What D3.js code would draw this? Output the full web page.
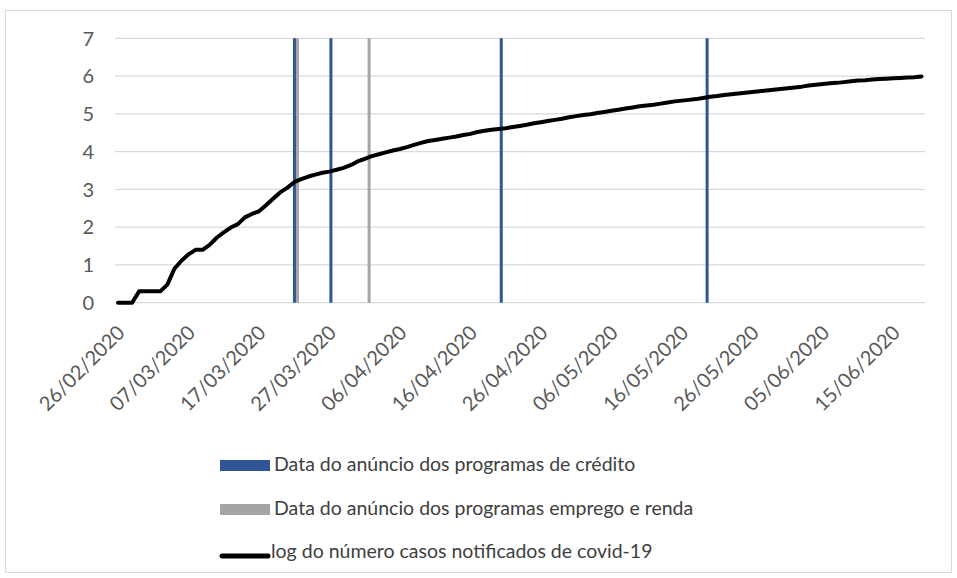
<!DOCTYPE html>
<html lang="pt">
<head>
<meta charset="UTF-8">
<title>log do número de casos de covid-19</title>
<script src="https://d3js.org/d3.v7.min.js"></script>
<style>
  body { margin: 0; background: #fff; }
  svg { display: block; font-family: Lato, 'Open Sans', sans-serif; }
  .grid line { stroke: #d9d9d9; stroke-width: 1.3px; }
  .tick-label { fill: #595959; }
  .legend text { fill: #404040; }
</style>
</head>
<body>
<svg id="chart" width="957" height="578"></svg>
<script>
// first day of the series, one value per day after that
const startDate = "2020-02-26";
const logCases = [
  0, 0, 0, 0.30,                                                   // 26-29/02
  0.30, 0.30, 0.30, 0.48, 0.90, 1.11, 1.28, 1.40, 1.40, 1.53,      // 01-10/03
  1.72, 1.86, 1.99, 2.08, 2.26, 2.35, 2.42, 2.58, 2.75, 2.92,      // 11-20/03
  3.04, 3.19, 3.27, 3.34, 3.39, 3.44, 3.47, 3.52, 3.57, 3.64, 3.74, // 21-31/03
  3.81, 3.88, 3.93, 3.98, 4.03, 4.07, 4.12, 4.18, 4.23, 4.28,      // 01-10/04
  4.31, 4.34, 4.37, 4.40, 4.44, 4.47, 4.52, 4.55, 4.58, 4.60,      // 11-20/04
  4.62, 4.65, 4.68, 4.71, 4.75, 4.78, 4.81, 4.84, 4.87, 4.91,      // 21-30/04
  4.94, 4.97, 4.99, 5.02, 5.05, 5.08, 5.11, 5.14, 5.17, 5.20,      // 01-10/05
  5.22, 5.24, 5.27, 5.30, 5.33, 5.35, 5.37, 5.39, 5.42, 5.45,      // 11-20/05
  5.47, 5.50, 5.52, 5.54, 5.56, 5.58, 5.60, 5.62, 5.64, 5.66, 5.68, // 21-31/05
  5.70, 5.72, 5.75, 5.77, 5.79, 5.81, 5.82, 5.84, 5.86, 5.88,      // 01-10/06
  5.89, 5.91, 5.92, 5.93, 5.94, 5.95, 5.96, 5.97, 5.99             // 11-19/06
];

// announcement dates (vertical lines)
const creditoDates = ["2020-03-22T01:00", "2020-03-27T05:00", "2020-04-20T09:00", "2020-05-19T14:00"];
const empregoDates = ["2020-03-22T11:00", "2020-04-01T15:00"];

const xTickDates = ["2020-02-26", "2020-03-07", "2020-03-17", "2020-03-27", "2020-04-06", "2020-04-16",
                    "2020-04-26", "2020-05-06", "2020-05-16", "2020-05-26", "2020-06-05", "2020-06-15"];
const yTicks = [0, 1, 2, 3, 4, 5, 6, 7];

const legendLabels = [
  "Data do anúncio dos programas de crédito",
  "Data do anúncio dos programas emprego e renda",
  "log do número casos notificados de covid-19"
];

const parseDay = d3.utcParse("%Y-%m-%d");
const parseTime = d3.utcParse("%Y-%m-%dT%H:%M");
const fmt = d3.utcFormat("%d/%m/%Y");

const t0 = parseDay(startDate);
const days = logCases.map((v, i) => ({ date: d3.utcDay.offset(t0, i), value: v }));

const svg = d3.select("#chart");

// outer frame like the Excel chart area
svg.append("rect")
  .attr("x", 5.5).attr("y", 10.5)
  .attr("width", 946).attr("height", 562)
  .attr("fill", "none").attr("stroke", "#d9d9d9");

const x = d3.scaleUtc()
  .domain([t0, days[days.length - 1].date])
  .range([118, 921.5]);

const y = d3.scaleLinear().domain([0, 7]).range([302.7, 38.3]);

// horizontal gridlines
svg.append("g").attr("class", "grid")
  .selectAll("line").data(yTicks).join("line")
  .attr("x1", 115).attr("x2", 925)
  .attr("y1", d => y(d)).attr("y2", d => y(d));

// y tick labels
svg.append("g")
  .selectAll("text").data(yTicks).join("text")
  .attr("class", "tick-label")
  .attr("x", 94).attr("y", d => y(d))
  .attr("dy", "0.36em")
  .attr("text-anchor", "end")
  .style("font-size", "20px")
  .text(d => d);

// x tick labels, rotated
svg.append("g")
  .selectAll("text").data(xTickDates.map(parseDay)).join("text")
  .attr("class", "tick-label")
  .attr("transform", d => `translate(${x(d) + 3},329) rotate(-45)`)
  .attr("dy", "0.35em")
  .attr("text-anchor", "end")
  .style("font-size", "20px")
  .text(d => fmt(d));

// vertical announcement lines
svg.append("g")
  .selectAll("line").data(creditoDates.map(parseTime)).join("line")
  .attr("x1", d => x(d)).attr("x2", d => x(d))
  .attr("y1", y(7)).attr("y2", y(0))
  .attr("stroke", "#2f5597").attr("stroke-width", 3);

svg.append("g")
  .selectAll("line").data(empregoDates.map(parseTime)).join("line")
  .attr("x1", d => x(d)).attr("x2", d => x(d))
  .attr("y1", y(7)).attr("y2", y(0))
  .attr("stroke", "#a5a5a5").attr("stroke-width", 3);

// the log series
const line = d3.line().x(d => x(d.date)).y(d => y(d.value));
svg.append("path")
  .datum(days)
  .attr("d", line)
  .attr("fill", "none")
  .attr("stroke", "#000")
  .attr("stroke-width", 4)
  .attr("stroke-linejoin", "round")
  .attr("stroke-linecap", "round");

// legend
const legend = svg.append("g").attr("class", "legend");
const rowBase = [471, 515, 558];

legend.append("rect").attr("x", 220).attr("y", 460).attr("width", 50).attr("height", 11).attr("fill", "#2f5597");
legend.append("rect").attr("x", 220).attr("y", 504).attr("width", 50).attr("height", 11).attr("fill", "#a5a5a5");
legend.append("line").attr("x1", 222).attr("x2", 268).attr("y1", 556).attr("y2", 556)
  .attr("stroke", "#000").attr("stroke-width", 5).attr("stroke-linecap", "round");

legend.selectAll("text").data(legendLabels).join("text")
  .attr("x", (d, i) => i === 2 ? 271 : 274)
  .attr("y", (d, i) => rowBase[i])
  .style("font-size", "19.5px")
  .text(d => d);
</script>
</body>
</html>
